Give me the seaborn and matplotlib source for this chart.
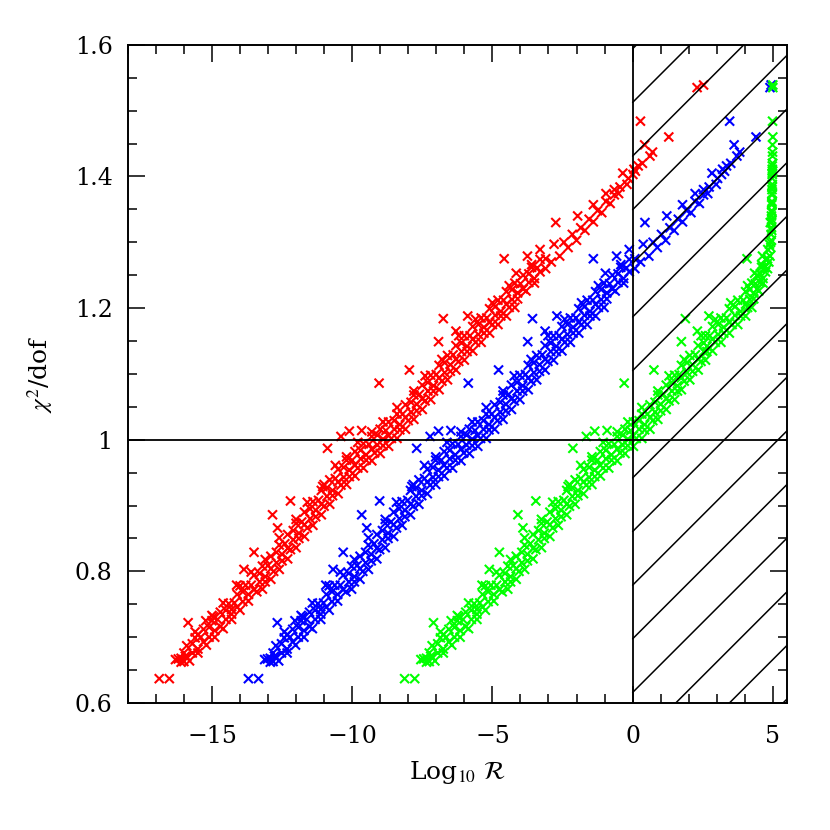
import numpy as np
import pandas as pd
import seaborn as sns
import matplotlib.pyplot as plt
from matplotlib.ticker import MultipleLocator, FuncFormatter

# chi^2/dof of each fit, shared by the three sets (outliers, then the dense band)
chi2_dof = [
    0.637, 0.637, 0.667, 0.663, 0.671, 0.722, 0.704, 0.725, 0.731, 0.742,
    0.779, 0.803, 0.829, 0.886, 0.866, 0.907, 0.929, 0.987, 1.005, 1.013,
    1.014, 1.086, 1.106, 1.149, 1.184, 1.165, 1.188, 1.275, 1.253, 1.279,
    1.289, 1.330, 1.340, 1.357, 1.374, 1.380, 1.405, 1.403, 1.411, 1.416,
    1.484, 1.448, 1.431, 1.437, 1.460, 1.535, 1.539,
    # band, lower edge
    0.666, 0.668, 0.670, 0.676, 0.682, 0.693, 0.700, 0.710, 0.716, 0.727,
    0.735, 0.746, 0.754, 0.765, 0.772, 0.784, 0.792, 0.804, 0.813, 0.826,
    0.835, 0.848, 0.858, 0.871, 0.880, 0.893, 0.902, 0.914, 0.923, 0.936,
    0.943, 0.954, 0.961, 0.971, 0.977, 0.986, 0.992, 1.001, 1.006, 1.016,
    1.023, 1.034, 1.042, 1.054, 1.062, 1.074, 1.082, 1.094, 1.102, 1.114,
    1.122, 1.134, 1.142, 1.153, 1.160, 1.171, 1.178, 1.189, 1.195, 1.206,
    1.213, 1.223, 1.229, 1.239, 1.245, 1.255, 1.260, 1.270, 1.279, 1.292,
    1.303, 1.318, 1.331, 1.345, 1.359, 1.374, 1.388,
    # band, middle
    0.676, 0.690, 0.700, 0.715, 0.727, 0.741, 0.752, 0.769, 0.779, 0.797,
    0.809, 0.829, 0.842, 0.862, 0.875, 0.895, 0.908, 0.927, 0.941, 0.958,
    0.969, 0.984, 0.993, 1.007, 1.014, 1.029, 1.039, 1.057, 1.069, 1.087,
    1.099, 1.117, 1.129, 1.147, 1.158, 1.175, 1.185, 1.202, 1.212, 1.228,
    1.237, 1.252, 1.261, 1.275,
    # band, upper side
    0.708, 0.733, 0.752, 0.778, 0.799, 0.818, 0.851, 0.879, 0.905, 0.932,
    0.961, 0.974, 0.996, 1.012, 1.027, 1.049, 1.074, 1.097, 1.122, 1.158,
    1.183, 1.208, 1.234, 1.266, 1.297,
    # band, far lower edge
    0.662, 0.664, 0.676, 0.688, 0.700, 0.713, 0.727, 0.741, 0.755, 0.769,
    0.784, 0.800, 0.816, 0.833, 0.850, 0.866, 0.883, 0.899, 0.915, 0.931,
    0.944, 0.957, 0.969, 0.980, 0.991, 1.002, 1.015, 1.029, 1.044, 1.059,
    1.074, 1.089, 1.104, 1.119, 1.134, 1.148, 1.162, 1.175, 1.188, 1.201,
    1.214, 1.226, 1.238,
    # band, between middle and upper side
    0.687, 0.699, 0.712, 0.725, 0.738, 0.751, 0.765, 0.779, 0.794, 0.808,
    0.823, 0.840, 0.856, 0.873, 0.890, 0.906, 0.923, 0.939, 0.955, 0.969,
    0.982, 0.994, 1.005, 1.016, 1.027, 1.039, 1.053, 1.068, 1.083, 1.098,
    1.113, 1.128, 1.143, 1.158, 1.172, 1.185, 1.199, 1.212, 1.225, 1.238,
    1.250, 1.262, 1.274,
    # sparse upper tail
    1.300, 1.312, 1.322, 1.335, 1.348, 1.362, 1.372, 1.384, 1.397, 1.408,
    1.420,
    # thick middle of the band, lowest edge
    0.773, 0.788, 0.803, 0.819, 0.836, 0.853, 0.870, 0.886, 0.902, 0.918,
    0.932, 0.945, 0.957, 0.968, 0.979, 0.990, 1.002, 1.016, 1.031, 1.046,
    1.061, 1.076, 1.091, 1.106, 1.121, 1.135, 1.148, 1.162, 1.175, 1.188,
    1.201,
]

log_r_red = [
    -16.88, -16.52, -16.20, -16.00, -15.95, -15.85, -15.50, -15.22, -14.95, -14.30,
    -14.12, -13.86, -13.50, -12.84, -12.66, -12.20, -11.05, -10.88, -10.40, -10.10,
    -9.66, -9.04, -7.96, -6.92, -6.75, -6.30, -5.88, -4.58, -4.15, -3.75,
    -3.30, -2.74, -1.96, -1.40, -0.95, -0.65, -0.35, 0.01, 0.05, 0.20,
    0.28, 0.43, 0.62, 0.71, 1.29, 2.30, 2.53,
    -16.3, -16.1, -15.9, -15.7, -15.5, -15.3, -15.1, -14.9, -14.7, -14.5,
    -14.3, -14.1, -13.9, -13.7, -13.5, -13.3, -13.1, -12.9, -12.7, -12.5,
    -12.3, -12.1, -11.9, -11.7, -11.5, -11.3, -11.1, -10.9, -10.7, -10.5,
    -10.3, -10.1, -9.9, -9.7, -9.5, -9.3, -9.1, -8.9, -8.7, -8.5,
    -8.3, -8.1, -7.9, -7.7, -7.5, -7.3, -7.1, -6.9, -6.7, -6.5,
    -6.3, -6.1, -5.9, -5.7, -5.5, -5.3, -5.1, -4.9, -4.7, -4.5,
    -4.3, -4.1, -3.9, -3.7, -3.5, -3.3, -3.1, -2.9, -2.6, -2.3,
    -2.0, -1.7, -1.4, -1.1, -0.8, -0.5, -0.2,
    -16.0, -15.7, -15.4, -15.1, -14.8, -14.5, -14.2, -13.9, -13.6, -13.3,
    -13.0, -12.7, -12.4, -12.1, -11.8, -11.5, -11.2, -10.9, -10.6, -10.3,
    -10.0, -9.7, -9.4, -9.1, -8.8, -8.5, -8.2, -7.9, -7.6, -7.3,
    -7.0, -6.7, -6.4, -6.1, -5.8, -5.5, -5.2, -4.9, -4.6, -4.3,
    -4.0, -3.7, -3.4, -3.1,
    -15.6, -15.0, -14.6, -14.0, -13.6, -13.1, -12.6, -12.0, -11.6, -11.0,
    -10.6, -10.2, -9.8, -9.3, -8.9, -8.4, -7.8, -7.4, -6.8, -6.2,
    -5.6, -5.0, -4.4, -3.6, -2.8,
    -16.1, -15.8, -15.5, -15.2, -14.9, -14.6, -14.3, -14.0, -13.7, -13.4,
    -13.1, -12.8, -12.5, -12.2, -11.9, -11.6, -11.3, -11.0, -10.7, -10.4,
    -10.1, -9.8, -9.5, -9.2, -8.9, -8.6, -8.3, -8.0, -7.7, -7.4,
    -7.1, -6.8, -6.5, -6.2, -5.9, -5.6, -5.3, -5.0, -4.7, -4.4,
    -4.1, -3.8, -3.5,
    -15.9, -15.6, -15.3, -15.0, -14.7, -14.4, -14.1, -13.8, -13.5, -13.2,
    -12.9, -12.6, -12.3, -12.0, -11.7, -11.4, -11.1, -10.8, -10.5, -10.2,
    -9.9, -9.6, -9.3, -9.0, -8.7, -8.4, -8.1, -7.8, -7.5, -7.2,
    -6.9, -6.6, -6.3, -6.0, -5.7, -5.4, -5.1, -4.8, -4.5, -4.2,
    -3.9, -3.6, -3.3,
    -2.45, -2.15, -1.85, -1.55, -1.25, -0.95, -0.65, -0.45, -0.15, 0.10,
    0.35,
    -13.2, -12.9, -12.6, -12.3, -12.0, -11.7, -11.4, -11.1, -10.8, -10.5,
    -10.2, -9.9, -9.6, -9.3, -9.0, -8.7, -8.4, -8.1, -7.8, -7.5,
    -7.2, -6.9, -6.6, -6.3, -6.0, -5.7, -5.4, -5.1, -4.8, -4.5,
    -4.2,
]

log_r_blue = [
    -13.70, -13.34, -13.02, -12.82, -12.77, -12.67, -12.32, -12.04, -11.77, -11.12,
    -10.94, -10.68, -10.32, -9.66, -9.48, -9.02, -7.87, -7.70, -7.22, -6.92,
    -6.48, -5.86, -4.78, -3.74, -3.57, -3.12, -2.70, -1.40, -0.97, -0.57,
    -0.12, 0.44, 1.22, 1.78, 2.23, 2.53, 2.83, 3.17, 3.21, 3.35,
    3.46, 3.62, 3.72, 3.82, 4.40, 4.90, 4.94,
    -13.12, -12.92, -12.72, -12.52, -12.32, -12.12, -11.92, -11.72, -11.52, -11.32,
    -11.12, -10.92, -10.72, -10.52, -10.32, -10.12, -9.92, -9.72, -9.52, -9.32,
    -9.12, -8.92, -8.72, -8.52, -8.32, -8.12, -7.92, -7.72, -7.52, -7.32,
    -7.12, -6.92, -6.72, -6.52, -6.32, -6.12, -5.92, -5.72, -5.52, -5.32,
    -5.12, -4.92, -4.72, -4.52, -4.32, -4.12, -3.92, -3.72, -3.52, -3.32,
    -3.12, -2.92, -2.72, -2.52, -2.32, -2.12, -1.92, -1.72, -1.52, -1.32,
    -1.12, -0.92, -0.72, -0.52, -0.32, -0.12, 0.08, 0.28, 0.58, 0.88,
    1.18, 1.48, 1.78, 2.08, 2.38, 2.68, 2.98,
    -12.82, -12.52, -12.22, -11.92, -11.62, -11.32, -11.02, -10.72, -10.42, -10.12,
    -9.82, -9.52, -9.22, -8.92, -8.62, -8.32, -8.02, -7.72, -7.42, -7.12,
    -6.82, -6.52, -6.22, -5.92, -5.62, -5.32, -5.02, -4.72, -4.42, -4.12,
    -3.82, -3.52, -3.22, -2.92, -2.62, -2.32, -2.02, -1.72, -1.42, -1.12,
    -0.82, -0.52, -0.22, 0.08,
    -12.42, -11.82, -11.42, -10.82, -10.42, -9.92, -9.42, -8.82, -8.42, -7.82,
    -7.42, -7.02, -6.62, -6.12, -5.72, -5.22, -4.62, -4.22, -3.62, -3.02,
    -2.42, -1.82, -1.22, -0.42, 0.38,
    -12.92, -12.62, -12.32, -12.02, -11.72, -11.42, -11.12, -10.82, -10.52, -10.22,
    -9.92, -9.62, -9.32, -9.02, -8.72, -8.42, -8.12, -7.82, -7.52, -7.22,
    -6.92, -6.62, -6.32, -6.02, -5.72, -5.42, -5.12, -4.82, -4.52, -4.22,
    -3.92, -3.62, -3.32, -3.02, -2.72, -2.42, -2.12, -1.82, -1.52, -1.22,
    -0.92, -0.62, -0.32,
    -12.72, -12.42, -12.12, -11.82, -11.52, -11.22, -10.92, -10.62, -10.32, -10.02,
    -9.72, -9.42, -9.12, -8.82, -8.52, -8.22, -7.92, -7.62, -7.32, -7.02,
    -6.72, -6.42, -6.12, -5.82, -5.52, -5.22, -4.92, -4.62, -4.32, -4.02,
    -3.72, -3.42, -3.12, -2.82, -2.52, -2.22, -1.92, -1.62, -1.32, -1.02,
    -0.72, -0.42, -0.12,
    0.73, 1.03, 1.33, 1.63, 1.93, 2.23, 2.53, 2.73, 3.03, 3.28,
    3.50,
    -10.02, -9.72, -9.42, -9.12, -8.82, -8.52, -8.22, -7.92, -7.62, -7.32,
    -7.02, -6.72, -6.42, -6.12, -5.82, -5.52, -5.22, -4.92, -4.62, -4.32,
    -4.02, -3.72, -3.42, -3.12, -2.82, -2.52, -2.22, -1.92, -1.62, -1.32,
    -1.02,
]

log_r_green = [
    -8.13, -7.77, -7.45, -7.25, -7.20, -7.10, -6.75, -6.47, -6.20, -5.55,
    -5.37, -5.11, -4.75, -4.09, -3.91, -3.45, -2.30, -2.13, -1.65, -1.35,
    -0.91, -0.30, 0.76, 1.74, 1.88, 2.31, 2.72, 4.08, 4.35, 4.63,
    4.82, 4.91, 4.95, 4.96, 4.97, 4.97, 4.98, 4.98, 4.98, 4.98,
    4.99, 4.99, 4.99, 4.99, 5.00, 5.00, 5.00,
    -7.55, -7.35, -7.15, -6.95, -6.75, -6.55, -6.35, -6.15, -5.95, -5.75,
    -5.55, -5.35, -5.15, -4.95, -4.75, -4.55, -4.35, -4.15, -3.95, -3.75,
    -3.55, -3.35, -3.15, -2.95, -2.75, -2.55, -2.35, -2.15, -1.95, -1.75,
    -1.55, -1.35, -1.15, -0.95, -0.75, -0.55, -0.35, -0.17, 0.03, 0.23,
    0.43, 0.63, 0.80, 1.00, 1.20, 1.40, 1.60, 1.74, 1.94, 2.14,
    2.34, 2.54, 2.65, 2.85, 3.05, 3.25, 3.45, 3.65, 3.85, 4.03,
    4.18, 4.32, 4.44, 4.55, 4.65, 4.74, 4.81, 4.86, 4.90, 4.93,
    4.95, 4.96, 4.96, 4.97, 4.97, 4.98, 4.98,
    -7.25, -6.95, -6.65, -6.35, -6.05, -5.75, -5.45, -5.15, -4.85, -4.55,
    -4.25, -3.95, -3.65, -3.35, -3.05, -2.75, -2.45, -2.15, -1.85, -1.55,
    -1.25, -0.95, -0.65, -0.35, -0.07, 0.23, 0.53, 0.80, 1.10, 1.40,
    1.66, 1.94, 2.24, 2.54, 2.75, 3.05, 3.35, 3.65, 3.95, 4.18,
    4.38, 4.55, 4.70, 4.81,
    -6.85, -6.25, -5.85, -5.25, -4.85, -4.35, -3.85, -3.25, -2.85, -2.25,
    -1.85, -1.45, -1.05, -0.55, -0.17, 0.33, 0.90, 1.30, 1.84, 2.44,
    2.95, 3.50, 4.10, 4.60, 4.88,
    -7.35, -7.05, -6.75, -6.45, -6.15, -5.85, -5.55, -5.25, -4.95, -4.65,
    -4.35, -4.05, -3.75, -3.45, -3.15, -2.85, -2.55, -2.25, -1.95, -1.65,
    -1.35, -1.05, -0.75, -0.45, -0.17, 0.13, 0.43, 0.72, 1.00, 1.30,
    1.60, 1.84, 2.14, 2.44, 2.65, 2.95, 3.25, 3.55, 3.85, 4.10,
    4.32, 4.50, 4.65,
    -7.15, -6.85, -6.55, -6.25, -5.95, -5.65, -5.35, -5.05, -4.75, -4.45,
    -4.15, -3.85, -3.55, -3.25, -2.95, -2.65, -2.35, -2.05, -1.75, -1.45,
    -1.15, -0.85, -0.55, -0.27, 0.03, 0.33, 0.62, 0.90, 1.20, 1.50,
    1.74, 2.04, 2.34, 2.60, 2.85, 3.15, 3.45, 3.75, 4.03, 4.25,
    4.44, 4.60, 4.74,
    4.92, 4.94, 4.95, 4.96, 4.96, 4.97, 4.97, 4.98, 4.98, 4.99,
    4.99,
    -4.45, -4.15, -3.85, -3.55, -3.25, -2.95, -2.65, -2.35, -2.05, -1.75,
    -1.45, -1.15, -0.85, -0.55, -0.27, 0.03, 0.33, 0.62, 0.90, 1.20,
    1.50, 1.74, 2.04, 2.34, 2.60, 2.85, 3.15, 3.45, 3.75, 4.03,
    4.25,
]

series = {'red': log_r_red, 'blue': log_r_blue, 'green': log_r_green}
colors = {'red': '#ff0000', 'blue': '#0000ff', 'green': '#00ff00'}

df = pd.concat(
    [pd.DataFrame({'log_r': xs, 'chi2': chi2_dof, 'set': name}) for name, xs in series.items()],
    ignore_index=True)

sns.set_style('ticks', {'axes.edgecolor': 'black', 'text.color': 'black',
                        'xtick.color': 'black', 'ytick.color': 'black',
                        'axes.labelcolor': 'black'})
plt.rcParams['font.family'] = ['DejaVu Serif']
plt.rcParams['mathtext.fontset'] = 'stix'

fig, ax = plt.subplots(figsize=(8.3, 8.3), dpi=100)
fig.subplots_adjust(left=0.154, right=0.948, bottom=0.153, top=0.946)

sns.scatterplot(data=df, x='log_r', y='chi2', hue='set', palette=colors,
                marker='x', s=42, linewidth=1.5, legend=False, ax=ax, zorder=2)

# excluded region R > 1: diagonal hatching
hatch_top, hatch_step, hatch_slope = 1.594, 0.0815, 0.0426
for k in range(16):
    y0 = hatch_top - k * hatch_step
    ax.plot([0, 5.5], [y0, y0 + hatch_slope * 5.5], color='black', lw=1.1, zorder=3)

ax.axhline(1.0, color='black', lw=1.3, zorder=3)
ax.axvline(0.0, color='black', lw=1.3, zorder=3)

ax.set_xlim(-18, 5.5)
ax.set_ylim(0.6, 1.6)
ax.xaxis.set_major_locator(MultipleLocator(5))
ax.xaxis.set_minor_locator(MultipleLocator(1))
ax.yaxis.set_major_locator(MultipleLocator(0.2))
ax.yaxis.set_minor_locator(MultipleLocator(0.05))
ax.yaxis.set_major_formatter(FuncFormatter(lambda v, _: f'{v:g}'))

ax.tick_params(which='both', direction='in', top=True, right=True, width=1.1)
ax.tick_params(which='major', length=12.5, labelsize=17)
ax.tick_params(which='minor', length=6.5)
ax.tick_params(axis='x', pad=16)
ax.tick_params(axis='y', pad=11)
for sp in ax.spines.values():
    sp.set_linewidth(1.4)

ax.set_xlabel(r'Log$_{10}$ $\mathcal{R}$', fontsize=18)
ax.set_ylabel(r'$\chi^2$/dof', fontsize=18)
ax.xaxis.set_label_coords(0.5, -0.085)
ax.yaxis.set_label_coords(-0.11, 0.5)

plt.savefig('out.png', dpi=100)
